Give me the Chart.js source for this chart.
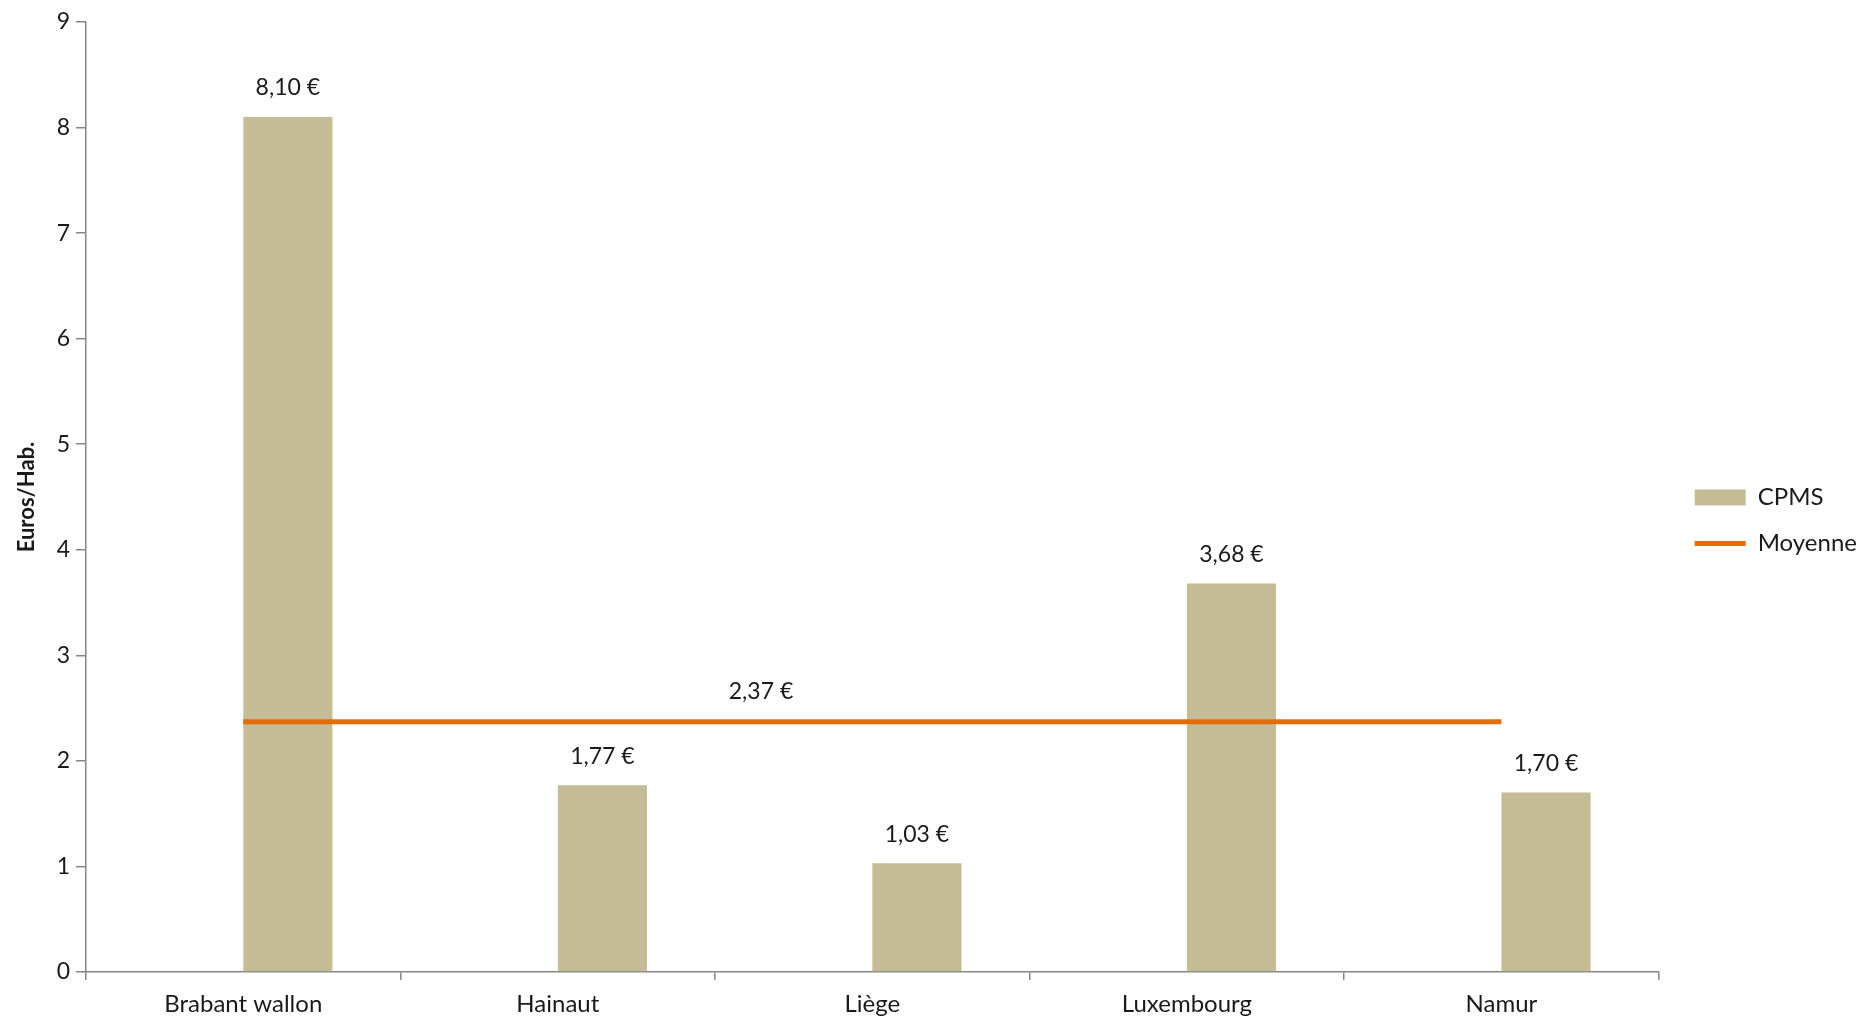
<!DOCTYPE html>
<html>
<head>
<meta charset="utf-8">
<script src="https://cdn.jsdelivr.net/npm/chart.js@4.4.1/dist/chart.umd.min.js"></script>
<style>
  html, body { margin: 0; padding: 0; background: #ffffff; }
  #wrap { width: 1867px; height: 1019px; position: relative; }
</style>
</head>
<body>
<div id="wrap"><canvas id="c"></canvas></div>
<script>
// ---- data ----
const categories = ['Brabant wallon', 'Hainaut', 'Liège', 'Luxembourg', 'Namur'];
const cpmsValues = [8.10, 1.77, 1.03, 3.68, 1.70];
const moyenneValues = [2.37, 2.37, 2.37, 2.37, 2.37];
const emptySlot = [null, null, null, null, null];
const yTicks = [0, 1, 2, 3, 4, 5, 6, 7, 8, 9];
const seriesNames = ['CPMS', 'Moyenne'];
const yTitle = 'Euros/Hab.';

// ---- style ----
const FONT = 'Lato, "Open Sans", sans-serif';
const TAN = '#C4BC96';
const ORANGE = '#E46C0A';
const AXIS = '#868686';
const TEXT = '#1a1a1a';

const fmt = v => v.toFixed(2).replace('.', ',') + ' €';

const valueLabels = {
  id: 'valueLabels',
  afterDatasetsDraw(chart) {
    const ctx = chart.ctx;
    ctx.save();
    ctx.font = '23px ' + FONT;
    ctx.fillStyle = TEXT;
    ctx.textAlign = 'center';
    ctx.textBaseline = 'middle';
    const meta = chart.getDatasetMeta(1);
    meta.data.forEach((bar, i) => {
      ctx.fillText(fmt(cpmsValues[i]), bar.x, bar.y - 29);
    });
    const xs = chart.scales.x, ys = chart.scales.y;
    ctx.fillText(fmt(moyenneValues[0]), xs.getPixelForValue(1.646), ys.getPixelForValue(moyenneValues[0]) - 30);
    ctx.restore();
  }
};

new Chart(document.getElementById('c'), {
  data: {
    labels: categories,
    datasets: [
      { type: 'bar', label: '', data: emptySlot, backgroundColor: 'rgba(0,0,0,0)', order: 1,
        categoryPercentage: 0.567, barPercentage: 1.0 },
      { type: 'bar', label: seriesNames[0], data: cpmsValues, backgroundColor: TAN, order: 1,
        categoryPercentage: 0.567, barPercentage: 1.0 },
      { type: 'line', label: seriesNames[1], data: moyenneValues, borderColor: ORANGE, backgroundColor: ORANGE,
        borderWidth: 5, pointRadius: 0, pointHoverRadius: 0, tension: 0, order: 0, borderCapStyle: 'butt' }
    ]
  },
  options: {
    responsive: true,
    maintainAspectRatio: false,
    animation: false,
    layout: { padding: { left: 10, top: 22, right: 0, bottom: 0 } },
    plugins: {
      tooltip: { enabled: false },
      legend: {
        position: 'right',
        labels: {
          usePointStyle: true,
          pointStyleWidth: 51,
          boxHeight: 16,
          padding: 22,
          color: TEXT,
          font: { family: FONT, size: 24 },
          generateLabels(chart) {
            return chart.data.datasets.map((ds, i) => ({ ds, i }))
              .filter(o => o.ds.label)
              .map(o => ({
                text: o.ds.label,
                datasetIndex: o.i,
                fillStyle: o.ds.type === 'bar' ? TAN : ORANGE,
                strokeStyle: ORANGE,
                lineWidth: o.ds.type === 'bar' ? 0 : 5,
                pointStyle: o.ds.type === 'bar' ? 'rect' : 'line',
                fontColor: TEXT,
                hidden: false
              }));
          }
        }
      }
    },
    scales: {
      x: {
        type: 'category',
        offset: true,
        afterFit(scale) { scale.height = 47; },
        grid: { display: true, drawOnChartArea: false, offset: true, tickLength: 8, color: AXIS, lineWidth: 1.5 },
        border: { display: true, color: AXIS, width: 1.5 },
        ticks: { color: TEXT, font: { family: FONT, size: 24 }, padding: 10, maxRotation: 0 }
      },
      y: {
        type: 'linear',
        min: 0, max: 9,
        afterBuildTicks(scale) { scale.ticks = yTicks.map(v => ({ value: v })); },
        afterFit(scale) { scale.width = 76; },
        grid: { display: true, drawOnChartArea: false, tickLength: 10, color: AXIS, lineWidth: 1.5 },
        border: { display: true, color: AXIS, width: 1.5 },
        ticks: { color: TEXT, font: { family: FONT, size: 23 }, padding: 6 },
        title: { display: true, text: yTitle, color: TEXT, font: { family: FONT, size: 22, weight: 'bold' }, padding: 4 }
      },
      gap: {
        type: 'linear',
        position: 'right',
        display: true,
        afterFit(scale) { scale.width = 14; },
        grid: { display: false },
        border: { display: false },
        ticks: { display: false }
      }
    }
  },
  plugins: [valueLabels]
});
</script>
</body>
</html>
